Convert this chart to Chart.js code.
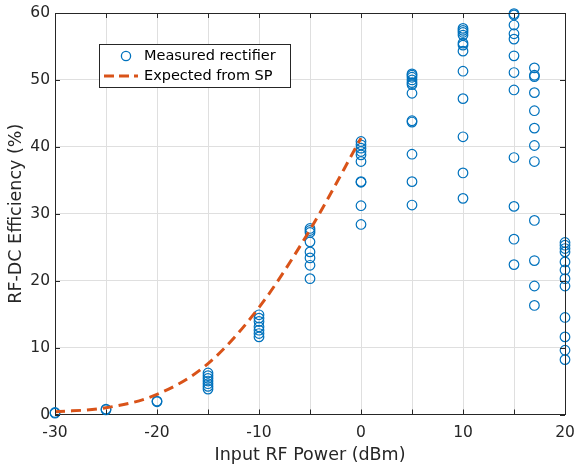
<!DOCTYPE html>
<html>
<head>
<meta charset="utf-8">
<script src="https://cdn.jsdelivr.net/npm/chart.js@4.4.1/dist/chart.umd.min.js"></script>
<style>
	body { margin: 0; background: #fff; }
	#wrap { width: 577px; height: 470px; }
</style>
</head>
<body>
<div id="wrap"><canvas id="effcanvas" width="577" height="470"></canvas></div>
<script>
// input power levels (dBm) and measured efficiency at each level (%)
var powerLevels = [-30, -25, -20, -15, -10, -5, 0, 5, 10, 15, 17, 20];
var measured = [
	[0.3, 0.2],
	[0.7, 0.8],
	[2.0, 1.9],
	[6.2, 5.8, 5.4, 5.0, 4.6, 4.2, 3.8],
	[14.9, 14.4, 13.9, 13.1, 12.6, 12.1, 11.6],
	[27.8, 27.5, 27.2, 25.8, 24.3, 23.4, 22.3, 20.3],
	[40.8, 40.3, 39.8, 39.3, 38.8, 37.8, 34.8, 34.7, 31.2, 28.4],
	[50.9, 50.7, 50.4, 50.0, 49.6, 49.3, 48.0, 43.9, 43.7, 38.9, 34.8, 31.3],
	[57.7, 57.4, 57.1, 56.7, 55.5, 55.2, 54.3, 51.3, 47.2, 41.5, 36.1, 32.3],
	[59.9, 59.7, 58.2, 56.9, 56.1, 53.6, 51.1, 48.5, 38.4, 31.1, 26.2, 22.4],
	[51.8, 50.7, 50.5, 48.1, 45.4, 42.8, 40.2, 37.8, 29.0, 23.0, 19.2, 16.3],
	[25.7, 25.3, 24.8, 24.3, 22.8, 21.6, 20.3, 19.2, 14.5, 11.6, 9.6, 8.2]
];

// expected efficiency from source-pull
var spPower = [-30, -25, -20, -15, -10, -5, 0];
var spEff = [0.4, 1.0, 3.0, 7.6, 16.0, 27.6, 41.3];

var xTicks = [-30, -25, -20, -15, -10, -5, 0, 5, 10, 15, 20];
var xTickLabels = ['-30', '', '-20', '', '-10', '', '0', '', '10', '', '20'];
var yTicks = [0, 10, 20, 30, 40, 50, 60];

var axisColor = '#262626';
var gridColor = '#dfdfdf';
var fontFam = '"DejaVu Sans", sans-serif';

var measuredPts = [];
for (var i in powerLevels) {
	for (var j in measured[i]) {
		measuredPts.push({x: powerLevels[i], y: measured[i][j]});
	}
}
var spPts = [];
for (var k in spPower) {
	spPts.push({x: spPower[k], y: spEff[k]});
}

// box, inward ticks and legend like the matlab figure
var matlabBox = {
	id: 'matlabBox',
	afterDraw: function(chart) {
		var ctx = chart.ctx;
		var a = chart.chartArea;
		var xs = chart.scales.x, ys = chart.scales.y;
		ctx.save();
		ctx.strokeStyle = axisColor;
		ctx.lineWidth = 1;
		ctx.beginPath();
		ctx.moveTo(a.left, a.top + 0.5);
		ctx.lineTo(a.right + 0.5, a.top + 0.5);
		ctx.lineTo(a.right + 0.5, a.bottom);
		ctx.stroke();
		ctx.beginPath();
		xTicks.forEach(function(v) {
			var px = Math.round(xs.getPixelForValue(v)) + 0.5;
			ctx.moveTo(px, a.bottom); ctx.lineTo(px, a.bottom - 5);
			ctx.moveTo(px, a.top); ctx.lineTo(px, a.top + 5);
		});
		yTicks.forEach(function(v) {
			var py = Math.round(ys.getPixelForValue(v)) + 0.5;
			ctx.moveTo(a.left, py); ctx.lineTo(a.left + 5, py);
			ctx.moveTo(a.right, py); ctx.lineTo(a.right - 5, py);
		});
		ctx.stroke();

		// legend
		var lx = 99.5, ly = 44.5, lw = 191, lh = 43;
		ctx.fillStyle = '#fff';
		ctx.fillRect(lx, ly, lw, lh);
		ctx.strokeStyle = axisColor;
		ctx.strokeRect(lx, ly, lw, lh);
		ctx.strokeStyle = '#0072BD';
		ctx.lineWidth = 1.3;
		ctx.beginPath();
		ctx.arc(126, 56, 4.6, 0, Math.PI * 2);
		ctx.stroke();
		ctx.strokeStyle = '#D95319';
		ctx.lineWidth = 3;
		ctx.setLineDash([10, 5]);
		ctx.beginPath();
		ctx.moveTo(104, 76); ctx.lineTo(138, 76);
		ctx.stroke();
		ctx.setLineDash([]);
		ctx.fillStyle = '#000';
		ctx.font = '14.5px ' + fontFam;
		ctx.textBaseline = 'middle';
		ctx.fillText('Measured rectifier', 144, 56);
		ctx.fillText('Expected from SP', 144, 76);
		ctx.restore();
	}
};

var ctx = document.getElementById('effcanvas');

var effChart = new Chart(ctx, {
	type: 'scatter',
	data: {
		datasets: [
			{
				label: 'Expected from SP',
				type: 'line',
				data: spPts,
				borderColor: '#D95319',
				borderWidth: 3,
				borderDash: [10, 6],
				pointRadius: 0,
				fill: false,
				cubicInterpolationMode: 'monotone',
				order: 1
			},
			{
				label: 'Measured rectifier',
				data: measuredPts,
				borderColor: '#0072BD',
				backgroundColor: 'rgba(0,0,0,0)',
				borderWidth: 1.2,
				pointRadius: 4.8,
				pointStyle: 'circle',
				clip: false,
				order: 2
			}
		]
	},
	plugins: [matlabBox],
	options: {
		responsive: false,
		animation: false,
		layout: { padding: { left: 0, right: 12, top: 13, bottom: 0 } },
		plugins: {
			legend: { display: false },
			tooltip: { enabled: false }
		},
		scales: {
			x: {
				type: 'linear',
				min: -30,
				max: 20,
				afterBuildTicks: function(scale) {
					scale.ticks = xTicks.map(function(v) { return {value: v}; });
				},
				afterFit: function(scale) {
					scale.height = 55.5;
					scale.paddingLeft = 0;
					scale.paddingRight = 0;
				},
				ticks: {
					color: axisColor,
					font: { family: fontFam, size: 15.5 },
					padding: 9,
					maxRotation: 0,
					autoSkip: false,
					callback: function(value) {
						var idx = xTicks.indexOf(value);
						return idx >= 0 ? xTickLabels[idx] : '';
					}
				},
				grid: { color: gridColor, drawTicks: false },
				border: { color: axisColor, width: 1 },
				title: {
					display: true,
					text: 'Input RF Power (dBm)',
					color: axisColor,
					font: { family: fontFam, size: 17.5 },
					padding: { top: 2, bottom: 4 }
				}
			},
			y: {
				min: 0,
				max: 60,
				afterBuildTicks: function(scale) {
					scale.ticks = yTicks.map(function(v) { return {value: v}; });
				},
				afterFit: function(scale) {
					scale.width = 55;
					scale.paddingTop = 0;
					scale.paddingBottom = 0;
				},
				ticks: {
					color: axisColor,
					font: { family: fontFam, size: 15.5 },
					padding: 5
				},
				grid: { color: gridColor, drawTicks: false },
				border: { color: axisColor, width: 1 },
				title: {
					display: true,
					text: 'RF-DC Efficiency (%)',
					color: axisColor,
					font: { family: fontFam, size: 17.5 },
					padding: { top: 6, bottom: 0 }
				}
			}
		}
	}
});
</script>
</body>
</html>
